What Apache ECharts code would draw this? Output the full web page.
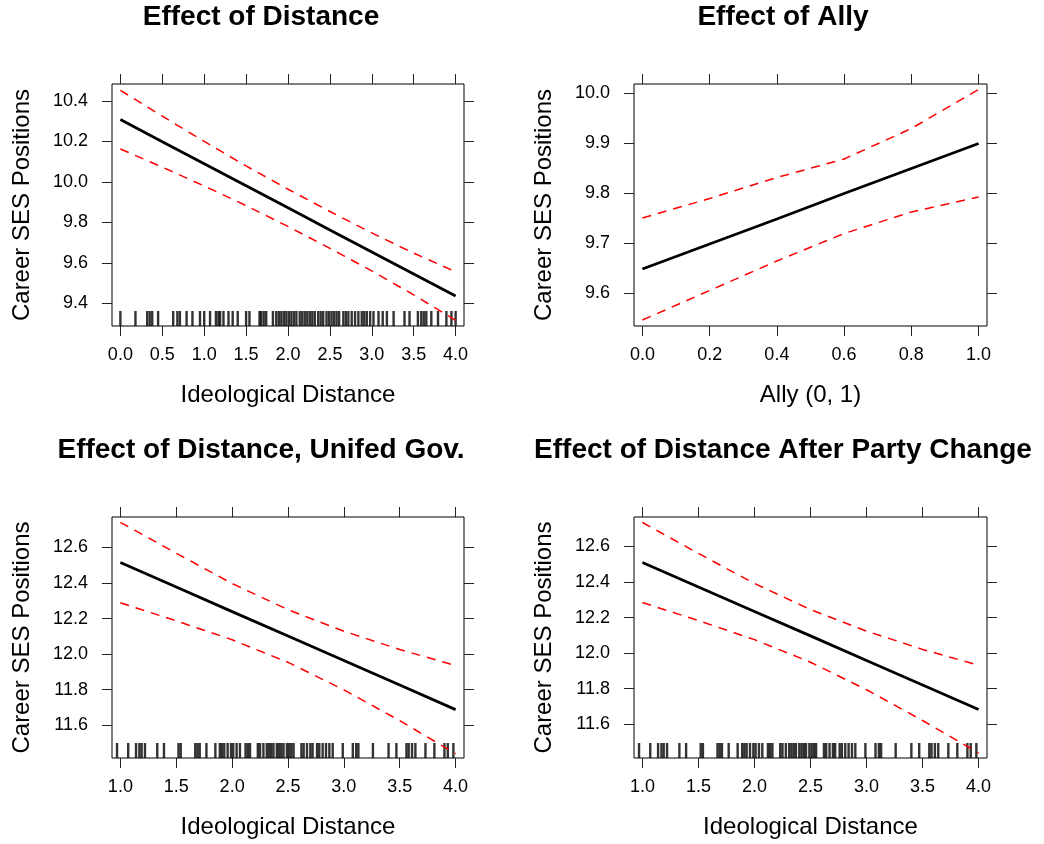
<!DOCTYPE html>
<html>
<head>
<meta charset="utf-8">
<script src="https://cdn.jsdelivr.net/npm/echarts@6/dist/echarts.min.js"></script>
<style>
  html, body { margin: 0; padding: 0; background: #fff; }
  #main { width: 1044px; height: 844px; }
</style>
</head>
<body>
<div id="main"></div>
<script>
// effect of ideological distance (all cases)
const distX = [0, 0.5, 1, 1.5, 2, 2.5, 3, 3.5, 4]
const distFit = [10.308, 10.199, 10.090, 9.981, 9.872, 9.763, 9.654, 9.545, 9.436]
const distUpper = [10.453, 10.325, 10.200, 10.079, 9.964, 9.854, 9.748, 9.648, 9.556]
const distLower = [10.163, 10.073, 9.980, 9.883, 9.780, 9.672, 9.560, 9.442, 9.316]
const distRug = [0.0, 0.18, 0.32, 0.35, 0.38, 0.45, 0.63, 0.68, 0.71, 0.79, 0.86, 0.95, 1.0, 1.07,
  1.14, 1.17, 1.19, 1.23, 1.29, 1.34, 1.4, 1.5, 1.54, 1.66, 1.68, 1.71, 1.74, 1.82, 1.86, 1.89,
  1.92, 1.95, 1.98, 2.01, 2.04, 2.07, 2.1, 2.14, 2.17, 2.2, 2.23, 2.26, 2.29, 2.32, 2.36, 2.39,
  2.42, 2.46, 2.49, 2.52, 2.55, 2.58, 2.61, 2.66, 2.69, 2.72, 2.76, 2.8, 2.84, 2.88, 2.91, 2.94,
  2.98, 3.02, 3.08, 3.13, 3.18, 3.26, 3.39, 3.45, 3.55, 3.59, 3.62, 3.65, 3.71, 3.79, 3.89, 3.95, 4.0]

// effect of ally
const allyX = [0, 0.2, 0.4, 0.6, 0.8, 1]
const allyFit = [9.648, 9.698, 9.748, 9.799, 9.849, 9.899]
const allyUpper = [9.750, 9.789, 9.831, 9.868, 9.929, 10.007]
const allyLower = [9.546, 9.605, 9.664, 9.719, 9.762, 9.792]

// unified government / after party change (same distance values)
const govX = [1, 1.5, 2, 2.5, 3, 3.5, 4]
const govFit = [12.515, 12.377, 12.239, 12.102, 11.964, 11.826, 11.688]
const govUpper = [12.741, 12.567, 12.397, 12.250, 12.129, 12.026, 11.936]
const govLower = [12.289, 12.187, 12.081, 11.954, 11.799, 11.626, 11.440]
const partyFit = [12.510, 12.372, 12.234, 12.097, 11.959, 11.821, 11.683]
const partyUpper = [12.735, 12.561, 12.392, 12.245, 12.124, 12.021, 11.932]
const partyLower = [12.285, 12.183, 12.076, 11.949, 11.794, 11.621, 11.438]
const govRug = [0.97, 1.07, 1.14, 1.17, 1.19, 1.22, 1.33, 1.39, 1.52, 1.54, 1.67, 1.69, 1.71,
  1.77, 1.85, 1.89, 1.91, 1.93, 1.96, 1.99, 2.01, 2.04, 2.07, 2.12, 2.14, 2.16, 2.23, 2.25, 2.28,
  2.31, 2.33, 2.35, 2.37, 2.4, 2.42, 2.44, 2.46, 2.49, 2.51, 2.53, 2.55, 2.62, 2.64, 2.67, 2.7,
  2.72, 2.76, 2.78, 2.81, 2.84, 2.87, 2.9, 2.99, 3.08, 3.11, 3.13, 3.26, 3.4, 3.47, 3.56, 3.58,
  3.61, 3.64, 3.73, 3.81, 3.9, 3.93, 3.98]

// tick labels
const distTicks = [0, 0.5, 1, 1.5, 2, 2.5, 3, 3.5, 4]
const allyTicks = [0, 0.2, 0.4, 0.6, 0.8, 1]
const govTicks = [1, 1.5, 2, 2.5, 3, 3.5, 4]
const distYTicks = [9.4, 9.6, 9.8, 10.0, 10.2, 10.4]
const allyYTicks = [9.6, 9.7, 9.8, 9.9, 10.0]
const govYTicks = [11.6, 11.8, 12.0, 12.2, 12.4, 12.6]

const titles = ['Effect of Distance', 'Effect of Ally', 'Effect of Distance, Unifed Gov.', 'Effect of Distance After Party Change']
const yName = 'Career SES Positions'

const FONT = '"Liberation Sans", Arial, Helvetica, sans-serif'

const panels = [
  { grid: { left: 112, top: 84, width: 352, height: 242 }, xMin: -0.1, xMax: 4.1, yMin: 9.288, yMax: 10.484,
    xTicks: distTicks, yTicks: distYTicks, xName: 'Ideological Distance',
    x: distX, fit: distFit, up: distUpper, lo: distLower, rug: distRug },
  { grid: { left: 634, top: 84, width: 353, height: 242 }, xMin: -0.025, xMax: 1.025, yMin: 9.534, yMax: 10.018,
    xTicks: allyTicks, yTicks: allyYTicks, xName: 'Ally (0, 1)',
    x: allyX, fit: allyFit, up: allyUpper, lo: allyLower, rug: null },
  { grid: { left: 112, top: 517, width: 352, height: 241 }, xMin: 0.925, xMax: 4.075, yMin: 11.416, yMax: 12.771,
    xTicks: govTicks, yTicks: govYTicks, xName: 'Ideological Distance',
    x: govX, fit: govFit, up: govUpper, lo: govLower, rug: govRug },
  { grid: { left: 634, top: 517, width: 353, height: 241 }, xMin: 0.925, xMax: 4.075, yMin: 11.41, yMax: 12.766,
    xTicks: govTicks, yTicks: govYTicks, xName: 'Ideological Distance',
    x: govX, fit: partyFit, up: partyUpper, lo: partyLower, rug: govRug },
]

const tickStyle = { show: true, inside: false, length: 10, lineStyle: { color: '#222', width: 1 } }
const noLine = { show: false, onZero: false }
const zip = (xs, ys) => xs.map((v, i) => [v, ys[i]])

const grid = [], xAxis = [], yAxis = [], series = []

panels.forEach((p, i) => {
  grid.push({ ...p.grid, show: true, borderColor: '#000', borderWidth: 1, backgroundColor: '#fff' })

  // bottom (labelled) and top (ticks only) x axes
  xAxis.push({
    type: 'value', gridIndex: i, position: 'bottom', min: p.xMin, max: p.xMax,
    name: p.xName, nameLocation: 'middle', nameGap: 57,
    nameTextStyle: { fontFamily: FONT, fontSize: 24, color: '#000' },
    axisLine: noLine, splitLine: { show: false },
    axisTick: { ...tickStyle, customValues: p.xTicks },
    axisLabel: { customValues: p.xTicks, margin: 20, fontFamily: FONT, fontSize: 18, color: '#000',
      formatter: v => v.toFixed(1) },
  })
  xAxis.push({
    type: 'value', gridIndex: i, position: 'top', min: p.xMin, max: p.xMax,
    axisLine: noLine, splitLine: { show: false },
    axisTick: { ...tickStyle, customValues: p.xTicks },
    axisLabel: { show: false },
  })
  // left (labelled) and right (ticks only) y axes
  yAxis.push({
    type: 'value', gridIndex: i, position: 'left', min: p.yMin, max: p.yMax,
    name: yName, nameLocation: 'middle', nameGap: 78,
    nameTextStyle: { fontFamily: FONT, fontSize: 24, color: '#000' },
    axisLine: noLine, splitLine: { show: false },
    axisTick: { ...tickStyle, customValues: p.yTicks },
    axisLabel: { customValues: p.yTicks, margin: 24, fontFamily: FONT, fontSize: 18, color: '#000',
      formatter: v => v.toFixed(1) },
  })
  yAxis.push({
    type: 'value', gridIndex: i, position: 'right', min: p.yMin, max: p.yMax,
    axisLine: noLine, splitLine: { show: false },
    axisTick: { ...tickStyle, customValues: p.yTicks },
    axisLabel: { show: false },
  })

  const ax = { xAxisIndex: 2 * i, yAxisIndex: 2 * i }
  if (p.rug) {
    series.push({
      type: 'scatter', ...ax, silent: true, clip: false,
      symbol: 'rect', symbolSize: [2.4, 15], symbolOffset: [0, '-50%'],
      itemStyle: { color: '#000' },
      data: p.rug.map(v => [v, p.yMin]),
    })
  }
  series.push({
    type: 'line', ...ax, showSymbol: false, silent: true,
    lineStyle: { color: '#ff0000', width: 1.5, type: [9, 7] },
    data: zip(p.x, p.up),
  })
  series.push({
    type: 'line', ...ax, showSymbol: false, silent: true,
    lineStyle: { color: '#ff0000', width: 1.5, type: [9, 7] },
    data: zip(p.x, p.lo),
  })
  series.push({
    type: 'line', ...ax, showSymbol: false, silent: true,
    lineStyle: { color: '#000', width: 2.8 },
    data: zip(p.x, p.fit),
  })
})

const titleText = (text, x, y) => ({
  type: 'text', x, y,
  style: { text, fill: '#000', font: 'bold 28px ' + FONT, textAlign: 'center', textVerticalAlign: 'middle' },
})

const chart = echarts.init(document.getElementById('main'), null, { renderer: 'canvas' })
chart.setOption({
  backgroundColor: '#fff',
  animation: false,
  grid, xAxis, yAxis, series,
  graphic: [
    titleText(titles[0], 261, 17),
    titleText(titles[1], 783, 17),
    titleText(titles[2], 261, 450),
    titleText(titles[3], 783, 450),
  ],
})
</script>
</body>
</html>
